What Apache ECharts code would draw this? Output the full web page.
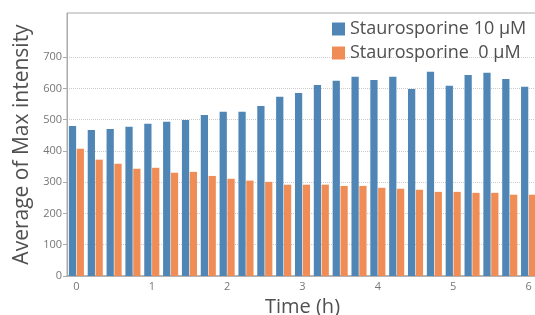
<!DOCTYPE html>
<html>
<head>
<meta charset="utf-8">
<script src="https://cdn.jsdelivr.net/npm/echarts@6/dist/echarts.min.js"></script>
<style>
  html, body { margin: 0; padding: 0; background: #fff; }
  #chart { width: 535px; height: 315px; }
</style>
</head>
<body>
<div id="chart"></div>
<script>
// time points every 15 min, 0 - 6 h
var hours = ['0','0.25','0.5','0.75','1','1.25','1.5','1.75','2','2.25','2.5','2.75','3',
             '3.25','3.5','3.75','4','4.25','4.5','4.75','5','5.25','5.5','5.75','6'];
var stauro10 = [480, 467, 470, 477, 487, 493, 499, 515, 525, 525, 544, 573, 585,
                611, 624, 637, 627, 637, 598, 653, 608, 643, 650, 630, 605];
var stauro0 = [407, 372, 359, 343, 346, 330, 333, 320, 311, 305, 301, 292, 292,
               292, 288, 288, 282, 279, 276, 269, 269, 266, 266, 260, 260];
var yTicks = [0, 100, 200, 300, 400, 500, 600, 700];

var chart = echarts.init(document.getElementById('chart'));
var font = 'Open Sans';

var option = {
  animation: false,
  textStyle: { fontFamily: font },
  grid: {
    left: 67, top: 13, right: -3, bottom: 39,
    outerBoundsMode: 'none',
    containLabel: false,
    show: true, borderColor: '#aaa', borderWidth: 1
  },
  legend: {
    orient: 'vertical',
    left: 332, top: 20, padding: 0,
    itemWidth: 13, itemHeight: 13, itemGap: 6,
    icon: 'rect',
    textStyle: { fontFamily: font, fontSize: 18, color: '#505050' },
    data: ['Staurosporine 10 µM', 'Staurosporine  0 µM']
  },
  xAxis: {
    type: 'category',
    data: hours,
    name: 'Time (h)',
    nameLocation: 'middle',
    nameGap: 17,
    nameTextStyle: { fontFamily: font, fontSize: 20, color: '#505050' },
    axisLine: { lineStyle: { color: '#aaa', width: 1.5 } },
    axisTick: { show: false },
    axisLabel: {
      interval: 3, margin: 5,
      color: '#777', fontSize: 11, fontFamily: font
    }
  },
  yAxis: {
    type: 'value',
    min: 0, max: 841, interval: 100,
    name: 'Average of Max intensity',
    nameLocation: 'middle',
    nameGap: 33,
    nameTextStyle: { fontFamily: font, fontSize: 21, color: '#505050' },
    axisLine: { show: true, lineStyle: { color: '#aaa' } },
    axisTick: { show: true, length: 4, lineStyle: { color: '#aaa' }, customValues: yTicks },
    axisLabel: { customValues: yTicks, margin: 5, color: '#777', fontSize: 11, fontFamily: font },
    splitLine: { show: true, lineStyle: { color: '#ccc', type: 'dotted' } }
  },
  series: [
    {
      name: 'Staurosporine 10 µM',
      type: 'bar',
      data: stauro10,
      barGap: '8%',
      barCategoryGap: '20%',
      itemStyle: { color: '#5086b5' }
    },
    {
      name: 'Staurosporine  0 µM',
      type: 'bar',
      data: stauro0,
      itemStyle: { color: '#f08d56' }
    }
  ]
};

chart.setOption(option);
</script>
</body>
</html>
